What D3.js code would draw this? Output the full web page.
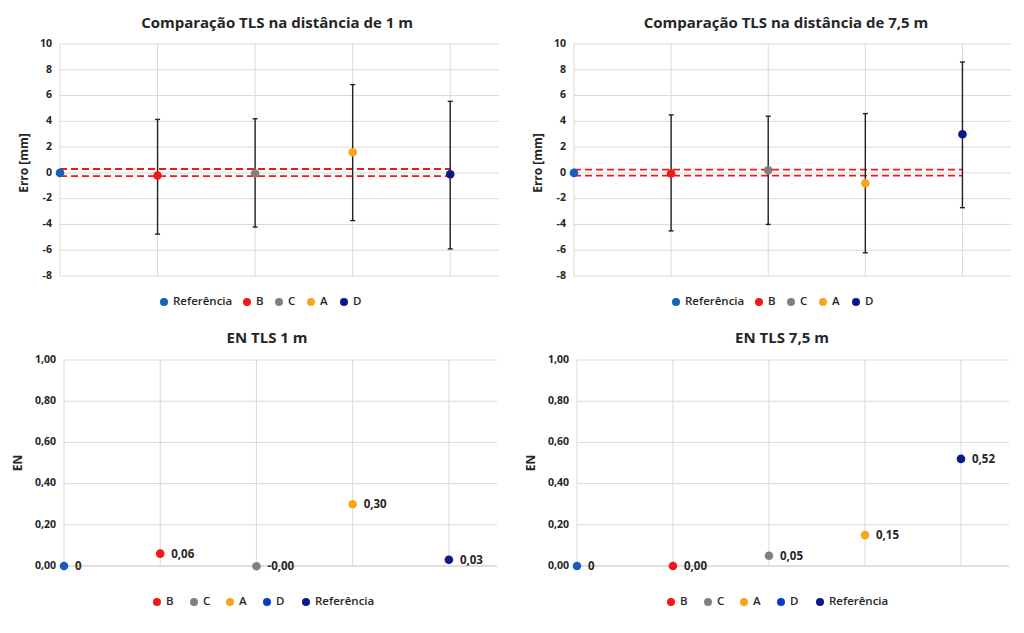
<!DOCTYPE html>
<html>
<head>
<meta charset="utf-8">
<script src="https://cdn.jsdelivr.net/npm/d3@7"></script>
<style>
  body { margin: 0; background: #fff; }
  text { font-family: "Open Sans", Lato, sans-serif; fill: #262626; }
</style>
</head>
<body>
<svg id="chart" width="1024" height="633"></svg>
<script>
// top charts: error with uncertainty
const errSeries = ["Referência", "B", "C", "A", "D"];
const errColors = ["#1560bd", "#f01818", "#808080", "#f9a51a", "#0a1a8a"];
const errX = [0, 1, 2, 3, 4];
const err1m = [0, -0.2, -0.05, 1.6, -0.1];
const errHi1m = [0, 4.15, 4.2, 6.85, 5.55];
const errLo1m = [0, -4.75, -4.2, -3.7, -5.9];
const err75m = [0, -0.05, 0.2, -0.8, 3.0];
const errHi75m = [0, 4.5, 4.4, 4.6, 8.6];
const errLo75m = [0, -4.5, -4.0, -6.2, -2.7];
const tol1m = [0.3, -0.25];
const tol75m = [0.25, -0.22];
const errTicks = [-8, -6, -4, -2, 0, 2, 4, 6, 8, 10];

// bottom charts: EN
const enLegend = ["B", "C", "A", "D", "Referência"];
const enLegendColors = ["#f01818", "#808080", "#f9a51a", "#0a3cc4", "#0a1a8a"];
const enPointColors = ["#1560bd", "#f01818", "#808080", "#f9a51a", "#0a1a8a"];
const enX = [0, 1, 2, 3, 4];
const en1m = [0, 0.06, -0.001, 0.30, 0.03];
const en1mLabels = ["0", "0,06", "-0,00", "0,30", "0,03"];
const en75m = [0, 0.00, 0.05, 0.15, 0.52];
const en75mLabels = ["0", "0,00", "0,05", "0,15", "0,52"];
const enTicks = [0, 0.2, 0.4, 0.6, 0.8, 1.0];

const svg = d3.select("#chart");
const comma = d => d3.format(".2f")(d).replace(".", ",");

function drawGrid(g, x, y, yTicks, fmt){
  g.selectAll(".hg").data(yTicks).enter().append("line")
    .attr("x1", x.range()[0]).attr("x2", x.range()[1])
    .attr("y1", d => y(d)).attr("y2", d => y(d))
    .attr("stroke", "#d9d9d9").attr("stroke-width", 1);
  g.selectAll(".vg").data(errX).enter().append("line")
    .attr("x1", d => x(d)).attr("x2", d => x(d))
    .attr("y1", y.range()[0]).attr("y2", y.range()[1])
    .attr("stroke", "#d9d9d9").attr("stroke-width", 1);
  g.selectAll(".yl").data(yTicks).enter().append("text")
    .attr("x", x.range()[0] - 8).attr("y", d => y(d))
    .attr("text-anchor", "end").attr("dominant-baseline", "middle")
    .attr("font-size", "10.5px").attr("font-weight", 700).attr("fill", "#333")
    .text(fmt);
}

function drawTitle(g, cx, cy, text){
  g.append("text").attr("x", cx).attr("y", cy)
    .attr("text-anchor", "middle").attr("font-size", "15px").attr("font-weight", 700)
    .text(text);
}

function drawYLabel(g, x, y, text){
  g.append("text").attr("transform", `translate(${x},${y}) rotate(-90)`)
    .attr("text-anchor", "middle").attr("font-size", "12px").attr("font-weight", 700)
    .text(text);
}

function drawLegend(g, items, colors, positions, y){
  items.forEach((name, i) => {
    g.append("circle").attr("cx", positions[i]).attr("cy", y).attr("r", 4).attr("fill", colors[i]);
    g.append("text").attr("x", positions[i] + 9).attr("y", y)
      .attr("dominant-baseline", "middle").attr("font-size", "11.5px").attr("font-weight", 600)
      .text(name);
  });
}

function drawErrChart(left, right, title, titleX, vals, hi, lo, tol, legendX){
  const x = d3.scaleLinear().domain([0, 4.5]).range([left, right]);
  const y = d3.scaleLinear().domain([-8, 10]).range([276, 44]);
  const g = svg.append("g");
  drawGrid(g, x, y, errTicks, d => d);
  drawTitle(g, titleX, 28, title);
  drawYLabel(g, left - 32, 163, "Erro [mm]");

  // tolerance band
  tol.forEach(t => {
    g.append("line").attr("x1", x(0)).attr("x2", x(4))
      .attr("y1", y(t)).attr("y2", y(t))
      .attr("stroke", "#f01818").attr("stroke-width", 1.8).attr("stroke-dasharray", "7,4");
  });

  // error bars
  errX.forEach((xv, i) => {
    if (hi[i] === lo[i]) return;
    g.append("line").attr("x1", x(xv)).attr("x2", x(xv))
      .attr("y1", y(hi[i])).attr("y2", y(lo[i]))
      .attr("stroke", "#222").attr("stroke-width", 1.4);
    [hi[i], lo[i]].forEach(v => {
      g.append("line").attr("x1", x(xv) - 2.5).attr("x2", x(xv) + 2.5)
        .attr("y1", y(v)).attr("y2", y(v))
        .attr("stroke", "#222").attr("stroke-width", 1.4);
    });
  });

  g.selectAll(".pt").data(vals).enter().append("circle")
    .attr("cx", (d, i) => x(errX[i])).attr("cy", d => y(d))
    .attr("r", 4.3).attr("fill", (d, i) => errColors[i]);

  drawLegend(g, errSeries, errColors, legendX, 302);
}

function drawENChart(left, right, title, titleX, vals, labels, legendX){
  const x = d3.scaleLinear().domain([0, 4.5]).range([left, right]);
  const y = d3.scaleLinear().domain([0, 1]).range([566, 360]);
  const g = svg.append("g");
  drawGrid(g, x, y, enTicks, comma);
  g.select("line").attr("stroke", "#bfbfbf");
  drawTitle(g, titleX, 343, title);
  drawYLabel(g, left - 42, 463, "EN");

  g.selectAll(".pt").data(vals).enter().append("circle")
    .attr("cx", (d, i) => x(enX[i])).attr("cy", d => y(d))
    .attr("r", 4.3).attr("fill", (d, i) => enPointColors[i]);
  g.selectAll(".lb").data(vals).enter().append("text")
    .attr("x", (d, i) => x(enX[i]) + 11).attr("y", d => y(d) + 1)
    .attr("dominant-baseline", "middle").attr("font-size", "11.5px").attr("font-weight", 700)
    .text((d, i) => labels[i]);

  drawLegend(g, enLegend, enLegendColors, legendX, 602);
}

drawErrChart(60, 499, "Comparação TLS na distância de 1 m", 277,
  err1m, errHi1m, errLo1m, tol1m, [164, 247, 279, 311, 344]);
drawErrChart(574, 1011, "Comparação TLS na distância de 7,5 m", 786,
  err75m, errHi75m, errLo75m, tol75m, [676, 759, 791, 823, 856]);
drawENChart(64, 497, "EN TLS 1 m", 267, en1m, en1mLabels, [157, 194, 230, 267, 306]);
drawENChart(577, 1009, "EN TLS 7,5 m", 782, en75m, en75mLabels, [671, 708, 744, 781, 820]);
</script>
</body>
</html>
